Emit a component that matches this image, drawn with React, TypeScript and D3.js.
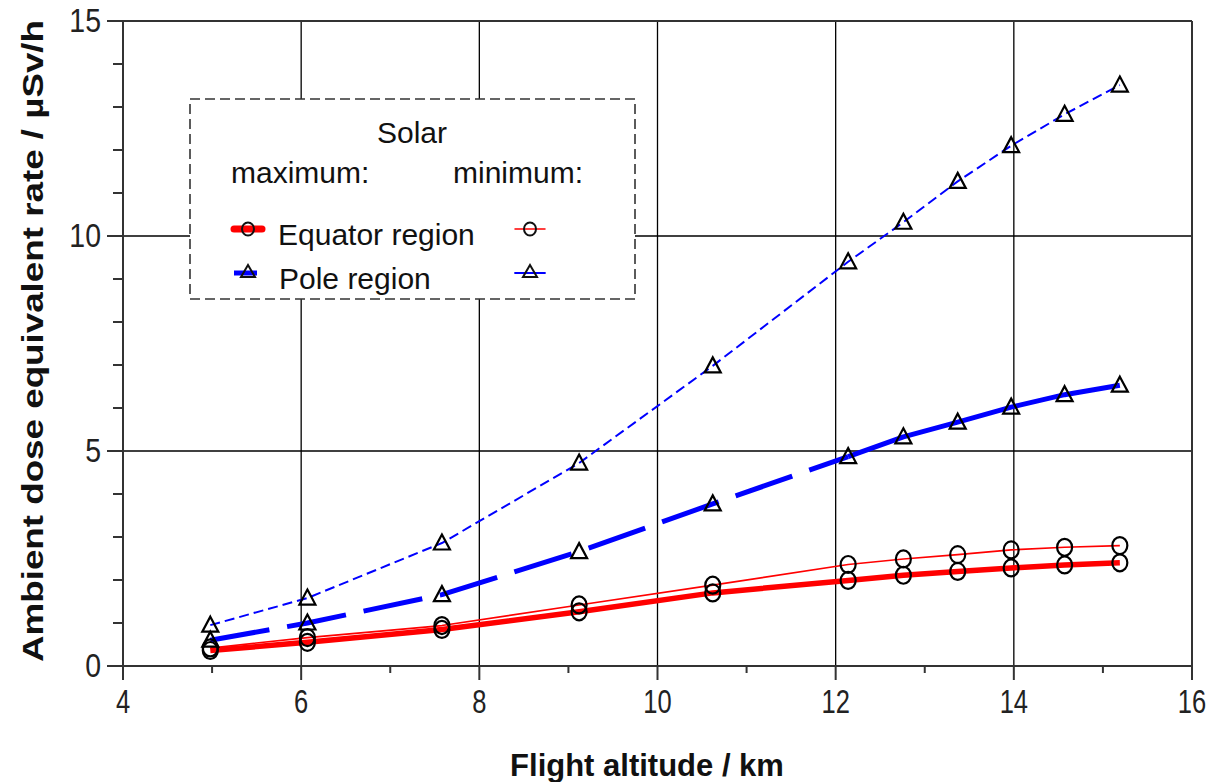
import React, { useEffect, useRef } from 'react';
import * as d3 from 'd3';

// flight altitude (km) of the computed points
const altitude = [4.98, 6.07, 7.58, 9.12, 10.62, 12.14, 12.76, 13.37, 13.97, 14.57, 15.19];

// ambient dose equivalent rate (µSv/h)
const equatorMax = [0.36, 0.55, 0.85, 1.26, 1.7, 1.99, 2.11, 2.2, 2.28, 2.35, 2.4];
const equatorMin = [0.42, 0.66, 0.94, 1.42, 1.88, 2.36, 2.49, 2.59, 2.7, 2.76, 2.8];
const poleMax = [0.6, 1.0, 1.66, 2.66, 3.77, 4.87, 5.33, 5.67, 6.02, 6.31, 6.53];
const poleMin = [0.95, 1.58, 2.86, 4.72, 6.98, 9.4, 10.32, 11.27, 12.1, 12.83, 13.51];

const xTicks = [4, 6, 8, 10, 12, 14, 16];
const xMinorTicks = [5, 7, 9, 11, 13, 15];
const yTicks = [0, 5, 10, 15];
const yMinorTicks = [1, 2, 3, 4, 6, 7, 8, 9, 11, 12, 13, 14];
const xGrid = [6, 8, 10, 12, 14];
const yGrid = [5, 10];

const FONT = '"Liberation Sans", Arial, Helvetica, sans-serif';

const App = () => {
  const svgRef = useRef(null);

  useEffect(() => {
    const svg = d3.select(svgRef.current);
    svg.selectAll('*').remove();

    const left = 123, right = 1192, top = 21, bottom = 666;
    const x = d3.scaleLinear().domain([4, 16]).range([left, right]);
    const y = d3.scaleLinear().domain([0, 15]).range([bottom, top]);

    // grid
    const grid = svg.append('g').attr('stroke', '#000').attr('stroke-width', 1.3);
    xGrid.forEach(v => {
      grid.append('line').attr('x1', x(v)).attr('x2', x(v)).attr('y1', top).attr('y2', bottom);
    });
    yGrid.forEach(v => {
      grid.append('line').attr('x1', left).attr('x2', right).attr('y1', y(v)).attr('y2', y(v));
    });

    // frame + axes
    const axis = svg.append('g').attr('stroke', '#333').attr('stroke-width', 2);
    axis.append('line').attr('x1', left).attr('x2', right).attr('y1', top).attr('y2', top);
    axis.append('line').attr('x1', right).attr('x2', right).attr('y1', top).attr('y2', bottom);
    axis.append('line').attr('x1', left).attr('x2', left).attr('y1', top).attr('y2', bottom);
    axis.append('line').attr('x1', left).attr('x2', right).attr('y1', bottom).attr('y2', bottom);

    xTicks.forEach(v => {
      axis.append('line').attr('x1', x(v)).attr('x2', x(v)).attr('y1', bottom).attr('y2', bottom + 14);
    });
    xMinorTicks.forEach(v => {
      axis.append('line').attr('x1', x(v)).attr('x2', x(v)).attr('y1', bottom).attr('y2', bottom + 7);
    });
    yTicks.forEach(v => {
      axis.append('line').attr('x1', left - 16).attr('x2', left).attr('y1', y(v)).attr('y2', y(v));
    });
    yMinorTicks.forEach(v => {
      axis.append('line').attr('x1', left - 10).attr('x2', left).attr('y1', y(v)).attr('y2', y(v));
    });

    // tick labels (slightly condensed, like the original)
    const tickText = svg.append('g')
      .attr('font-family', FONT)
      .attr('font-size', 30)
      .attr('fill', '#222');
    xTicks.forEach(v => {
      tickText.append('text')
        .attr('transform', `translate(${x(v)},${bottom + 47}) scale(0.85,1.08)`)
        .attr('text-anchor', 'middle')
        .text(v);
    });
    yTicks.forEach(v => {
      tickText.append('text')
        .attr('transform', `translate(${left - 22},${y(v) + 11}) scale(0.95,1.08)`)
        .attr('text-anchor', 'end')
        .text(v);
    });

    // axis titles
    svg.append('text')
      .attr('x', 647)
      .attr('y', 776)
      .attr('text-anchor', 'middle')
      .attr('font-family', FONT)
      .attr('font-weight', 'bold')
      .attr('font-size', 31)
      .attr('fill', '#111')
      .text('Flight altitude / km');

    svg.append('text')
      .attr('transform', 'translate(43,341) rotate(-90)')
      .attr('text-anchor', 'middle')
      .attr('font-family', FONT)
      .attr('font-weight', 'bold')
      .attr('font-size', 30)
      .attr('fill', '#111')
      .attr('textLength', 642)
      .attr('lengthAdjust', 'spacingAndGlyphs')
      .text('Ambient dose equivalent rate / µSv/h');

    // series
    const line = d3.line()
      .x(d => x(d[0]))
      .y(d => y(d[1]));
    const pts = vals => altitude.map((a, i) => [a, vals[i]]);

    const curves = svg.append('g').attr('fill', 'none').attr('stroke-linejoin', 'round');

    curves.append('path')
      .attr('d', line(pts(equatorMin)))
      .attr('stroke', '#ff0000')
      .attr('stroke-width', 1.6);
    curves.append('path')
      .attr('d', line(pts(equatorMax)))
      .attr('stroke', '#ff0000')
      .attr('stroke-width', 5.5);

    curves.append('path')
      .attr('d', line(pts(poleMin)))
      .attr('stroke', '#0000ff')
      .attr('stroke-width', 2)
      .attr('stroke-dasharray', '10,5');

    // pole maximum: dashed up to 12 km, solid above
    curves.append('path')
      .attr('d', line(pts(poleMax).slice(0, 6)))
      .attr('stroke', '#0000ff')
      .attr('stroke-width', 5)
      .attr('stroke-dasharray', '60,18');
    curves.append('path')
      .attr('d', line(pts(poleMax).slice(5)))
      .attr('stroke', '#0000ff')
      .attr('stroke-width', 5);

    // markers
    const triangle = 'M0,-8.5L8,6.5L-8,6.5Z';
    const markers = svg.append('g').attr('fill', 'none').attr('stroke', '#000').attr('stroke-width', 2.2);
    [equatorMax, equatorMin].forEach(vals => {
      markers.selectAll(null)
        .data(pts(vals))
        .enter()
        .append('ellipse')
        .attr('cx', d => x(d[0]))
        .attr('cy', d => y(d[1]))
        .attr('rx', 7.5)
        .attr('ry', 8.5);
    });
    [poleMax, poleMin].forEach(vals => {
      markers.selectAll(null)
        .data(pts(vals))
        .enter()
        .append('path')
        .attr('d', triangle)
        .attr('transform', d => `translate(${x(d[0])},${y(d[1])})`);
    });

    // legend
    const legend = svg.append('g');
    legend.append('rect')
      .attr('x', 190)
      .attr('y', 99)
      .attr('width', 445)
      .attr('height', 200)
      .attr('fill', '#fff')
      .attr('stroke', '#333')
      .attr('stroke-width', 1.6)
      .attr('stroke-dasharray', '10,5');

    const lt = legend.append('g')
      .attr('font-family', FONT)
      .attr('font-size', 30)
      .attr('fill', '#111');
    lt.append('text').attr('x', 412).attr('y', 143).attr('text-anchor', 'middle').text('Solar');
    lt.append('text').attr('x', 231).attr('y', 183).text('maximum:');
    lt.append('text').attr('x', 453).attr('y', 183).text('minimum:');
    lt.append('text').attr('x', 278).attr('y', 245).text('Equator region');
    lt.append('text').attr('x', 279).attr('y', 289).text('Pole region');

    const row1 = 229, row2 = 273;
    const sym = legend.append('g').attr('fill', 'none').attr('stroke-linecap', 'round');
    sym.append('line').attr('x1', 234).attr('x2', 262).attr('y1', row1).attr('y2', row1)
      .attr('stroke', '#ff0000').attr('stroke-width', 7);
    sym.append('line').attr('x1', 515).attr('x2', 545).attr('y1', row1).attr('y2', row1)
      .attr('stroke', '#ff0000').attr('stroke-width', 1.5);
    sym.append('line').attr('x1', 234).attr('x2', 257).attr('y1', row2).attr('y2', row2)
      .attr('stroke', '#0000ff').attr('stroke-width', 5).attr('stroke-linecap', 'butt');
    sym.append('line').attr('x1', 515).attr('x2', 545).attr('y1', row2).attr('y2', row2)
      .attr('stroke', '#0000ff').attr('stroke-width', 1.8);
    [248, 530].forEach(cx => {
      sym.append('ellipse').attr('cx', cx).attr('cy', row1).attr('rx', 6).attr('ry', 6.5)
        .attr('stroke', '#111').attr('stroke-width', 2);
      sym.append('path').attr('d', 'M0,-7L7,5L-7,5Z')
        .attr('transform', `translate(${cx},${row2 - 1})`)
        .attr('stroke', '#111').attr('stroke-width', 2);
    });
  }, []);

  return (
    <div style={{ position: 'absolute', left: 0, top: 0 }}>
      <svg ref={svgRef} width={1217} height={782} style={{ display: 'block', background: '#fff' }} />
    </div>
  );
};

export default App;
